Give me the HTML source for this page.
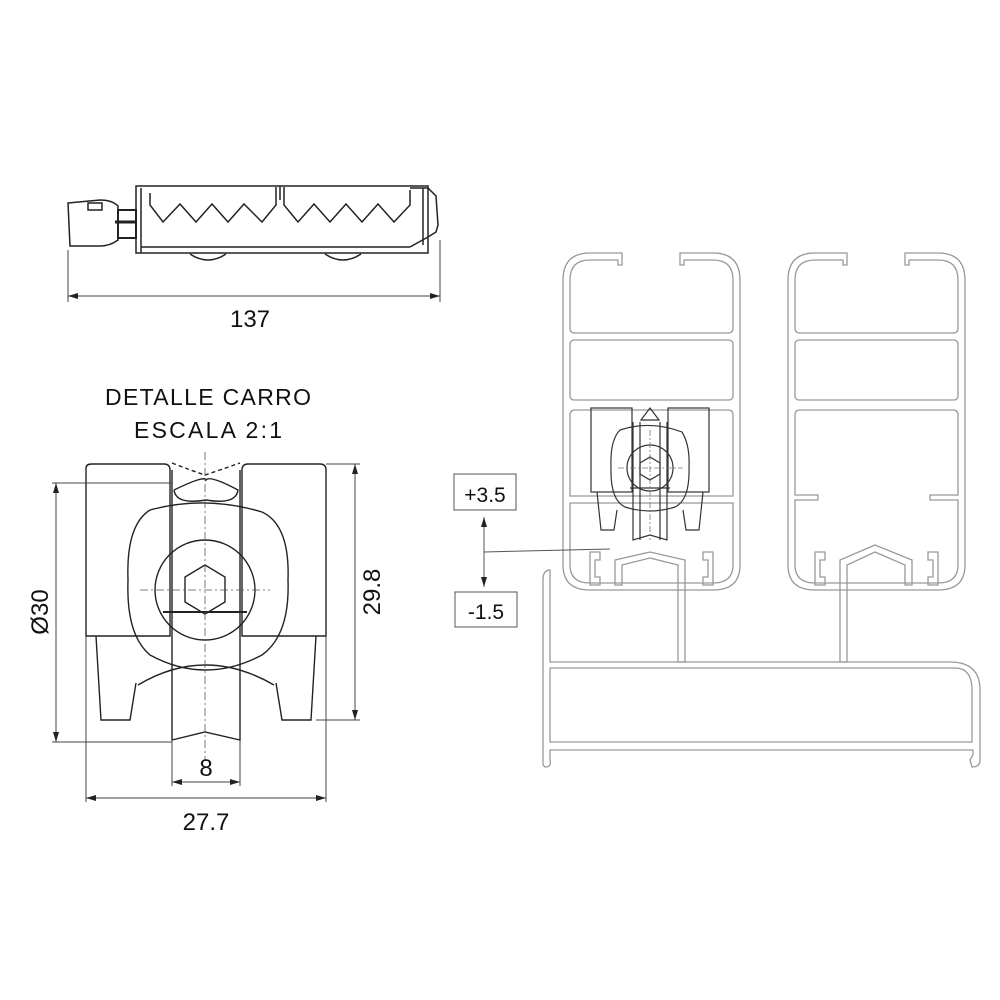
<!DOCTYPE html>
<html><head><meta charset="utf-8"><style>
html,body{margin:0;padding:0;background:#fff}
svg{display:block}
text{font-family:"Liberation Sans",sans-serif;fill:#111}
</style></head><body>
<svg width="1000" height="1000" viewBox="0 0 1000 1000" xmlns="http://www.w3.org/2000/svg">
<defs>
<marker id="ar" viewBox="0 0 10 6" refX="10" refY="3" markerWidth="10" markerHeight="6" orient="auto-start-reverse" markerUnits="userSpaceOnUse"><path d="M0,0 L10,3 L0,6 z" fill="#222"/></marker>
</defs>

<!-- TOP VIEW -->
<g fill="none" stroke="#222" stroke-width="1.5">
  <path d="M68,203 L100,200 Q112,200 118,206 L118,240 Q110,246 100,246 L70,246 Z"/>
  <rect x="88" y="203" width="14" height="7"/>
  <rect x="118" y="210" width="18" height="28" stroke-width="2"/>
  <line x1="115" y1="222" x2="136" y2="222" stroke-width="3"/>
  <rect x="136" y="186" width="292" height="67"/>
  <line x1="141" y1="188" x2="141" y2="253"/>
  <line x1="141" y1="247" x2="410" y2="247"/>
  <path d="M150,193 L150,205 L163,222 L180,204 L196,222 L212,204 L228,222 L244,204 L262,222 L276,205 L276,187"/>
  <path d="M284,187 L284,205 L298,222 L314,204 L330,222 L346,204 L362,222 L378,204 L394,222 L410,205 L410,190"/>
  <line x1="280" y1="186" x2="280" y2="200"/>
  <path d="M410,188 L428,188 L436,196 L438,225 L436,232 L428,237 L410,247"/>
  <line x1="423" y1="188" x2="423" y2="245"/>
  <path d="M190,254 Q208,266 226,254"/>
  <path d="M325,254 Q343,266 361,254"/>
</g>
<g stroke="#444" stroke-width="1" fill="none">
  <line x1="68" y1="250" x2="68" y2="302"/>
  <line x1="440" y1="240" x2="440" y2="302"/>
  <line x1="68" y1="296" x2="440" y2="296" marker-start="url(#ar)" marker-end="url(#ar)"/>
</g>
<text x="250" y="327" font-size="24" text-anchor="middle">137</text>

<!-- DETAIL -->
<text x="208" y="405" font-size="23" text-anchor="middle" textLength="206">DETALLE CARRO</text>
<text x="208" y="438" font-size="23" text-anchor="middle" textLength="148">ESCALA 2:1</text>
<g fill="none" stroke="#222" stroke-width="1.4">
  <path d="M86,636 L86,468 Q86,464 92,464 L164,464 Q170,464 170,470 L170,636 Z"/>
  <path d="M242,636 L242,470 Q242,464 248,464 L320,464 Q326,464 326,470 L326,636 Z"/>
  <path d="M96,636 L101,720 L130,720 L136,683"/>
  <path d="M316,636 L311,720 L282,720 L276,683"/>
  <path d="M172,470 L172,740 L205,732 L240,740 L240,470"/>
  <path d="M174,490 Q205,475 206,480 Q210,475 238,490 Q236,505 206,500 Q176,505 174,490"/>
  <path d="M172,463 Q190,470 205,475 Q220,470 240,463" stroke-dasharray="4,3"/>
  <path d="M150,510 Q205,495 262,512 Q290,525 288,580 Q290,635 262,655 Q205,685 150,655 Q126,635 128,580 Q126,525 150,510 Z"/>
  <path d="M138,685 Q205,645 274,685"/>
  <circle cx="205" cy="590" r="50"/>
  <polygon points="205,565 225,577 225,602 205,614 185,602 185,577"/>
  <line x1="163" y1="612" x2="247" y2="612" stroke-width="2"/>
</g>
<g stroke="#555" stroke-width="0.8" stroke-dasharray="8,3,2,3" fill="none">
  <line x1="205" y1="452" x2="205" y2="760"/>
  <line x1="140" y1="590" x2="270" y2="590"/>
</g>
<g stroke="#444" stroke-width="1" fill="none">
  <line x1="52" y1="483" x2="172" y2="483"/>
  <line x1="52" y1="742" x2="172" y2="742"/>
  <line x1="56" y1="483" x2="56" y2="742" marker-start="url(#ar)" marker-end="url(#ar)"/>
  <line x1="326" y1="464" x2="360" y2="464"/>
  <line x1="316" y1="720" x2="360" y2="720"/>
  <line x1="355" y1="464" x2="355" y2="720" marker-start="url(#ar)" marker-end="url(#ar)"/>
  <line x1="172" y1="740" x2="172" y2="786"/>
  <line x1="240" y1="740" x2="240" y2="786"/>
  <line x1="172" y1="782" x2="240" y2="782" marker-start="url(#ar)" marker-end="url(#ar)"/>
  <line x1="86" y1="636" x2="86" y2="802"/>
  <line x1="326" y1="636" x2="326" y2="802"/>
  <line x1="86" y1="798" x2="326" y2="798" marker-start="url(#ar)" marker-end="url(#ar)"/>
</g>
<text x="206" y="776" font-size="24" text-anchor="middle">8</text>
<text x="206" y="830" font-size="24" text-anchor="middle">27.7</text>
<text transform="translate(380,592) rotate(-90)" font-size="24" text-anchor="middle">29.8</text>
<text transform="translate(48,612) rotate(-90)" font-size="24" text-anchor="middle">Ø30</text>

<!-- PROFILES -->
<g fill="none" stroke="#999" stroke-width="1.3">
  <path d="M622,253 L590,253 Q563,253 563,280 L563,565 Q563,590 590,590 L713,590 Q740,590 740,565 L740,280 Q740,253 713,253 L680,253 L680,265 L684,265 L684,260 L713,260 Q733,260 733,280 L733,328 Q733,333 728,333 L575,333 Q570,333 570,328 L570,280 Q570,260 590,260 L618,260 L618,265 L622,265 Z"/>
  <rect x="570" y="340" width="163" height="60" rx="4"/>
  <path d="M575,410 L728,410 Q733,410 733,415 L733,496 L570,496 L570,415 Q570,410 575,410 Z"/>
  <path d="M570,503 L733,503 L733,565 Q733,583 713,583 L590,583 Q570,583 570,565 Z"/>
  <path d="M847,253 L815,253 Q788,253 788,280 L788,565 Q788,590 815,590 L938,590 Q965,590 965,565 L965,280 Q965,253 938,253 L905,253 L905,265 L909,265 L909,260 L938,260 Q958,260 958,280 L958,328 Q958,333 953,333 L800,333 Q795,333 795,328 L795,280 Q795,260 815,260 L843,260 L843,265 L847,265 Z"/>
  <rect x="795" y="340" width="163" height="60" rx="4"/>
  <path d="M800,410 L953,410 Q958,410 958,415 L958,495 L930,495 L930,500 L958,500 L958,565 Q958,583 938,583 L815,583 Q795,583 795,565 L795,500 L818,500 L818,495 L795,495 L795,415 Q795,410 800,410 Z"/>
  <path d="M590,552 L600,552 L600,560 L595,560 L595,577 L600,577 L600,585 L590,585 Z"/>
  <path d="M713,552 L703,552 L703,560 L708,560 L708,577 L703,577 L703,585 L713,585 Z"/>
  <path d="M815,552 L825,552 L825,560 L820,560 L820,577 L825,577 L825,585 L815,585 Z"/>
  <path d="M938,552 L928,552 L928,560 L933,560 L933,577 L928,577 L928,585 L938,585 Z"/>
  <path d="M615,585 L615,560 L650,552 L685,560 L685,662 L678,662 L678,565 L650,558 L622,565 L622,585 Z"/>
  <path d="M840,580 L840,560 L875,545 L912,560 L912,585 L905,585 L905,565 L875,552 L847,565 L847,662 L840,662 Z"/>
  <path d="M543,765 L543,580 Q543,570 550,570 L550,662 L950,662 Q980,662 980,690 L980,760 Q980,767 972,767 L970,760 L973,755 L973,750 L550,750 L550,760 Q552,767 545,767 Z"/>
  <path d="M550,668 L955,668 Q972,668 972,690 L972,742 L550,742 Z"/>
</g>
<g fill="none" stroke="#333" stroke-width="1.2">
  <rect x="591" y="408" width="41" height="84"/>
  <rect x="668" y="408" width="41" height="84"/>
  <path d="M597,492 L601,530 L614,530 L617,510"/>
  <path d="M703,492 L699,530 L686,530 L683,510"/>
  <path d="M633,422 L633,540 L650,535 L667,540 L667,422"/>
  <path d="M640,422 L640,540 M660,422 L660,540"/>
  <path d="M641,420 L650,408 L659,420 Z"/>
  <path d="M620,430 Q650,420 682,432 Q690,445 689,467 Q690,500 675,507 Q650,515 625,507 Q610,500 611,467 Q610,440 620,430 Z"/>
  <circle cx="650" cy="468" r="23"/>
  <polygon points="650,457 660,463 660,474 650,480 640,474 640,463"/>
  <line x1="630" y1="488" x2="670" y2="488"/>
</g>
<g stroke="#777" stroke-width="0.8" stroke-dasharray="6,2,2,2">
  <line x1="618" y1="468" x2="683" y2="468"/>
  <line x1="650" y1="430" x2="650" y2="540"/>
</g>
<g fill="none" stroke="#555" stroke-width="1">
  <rect x="454" y="474" width="62" height="36"/>
  <rect x="455" y="592" width="62" height="35"/>
  <line x1="484" y1="517" x2="484" y2="587" marker-start="url(#ar)" marker-end="url(#ar)"/>
  <line x1="484" y1="552" x2="610" y2="549"/>
</g>
<text x="485" y="502" font-size="21" text-anchor="middle">+3.5</text>
<text x="486" y="619" font-size="21" text-anchor="middle">-1.5</text>
</svg>
</body></html>
